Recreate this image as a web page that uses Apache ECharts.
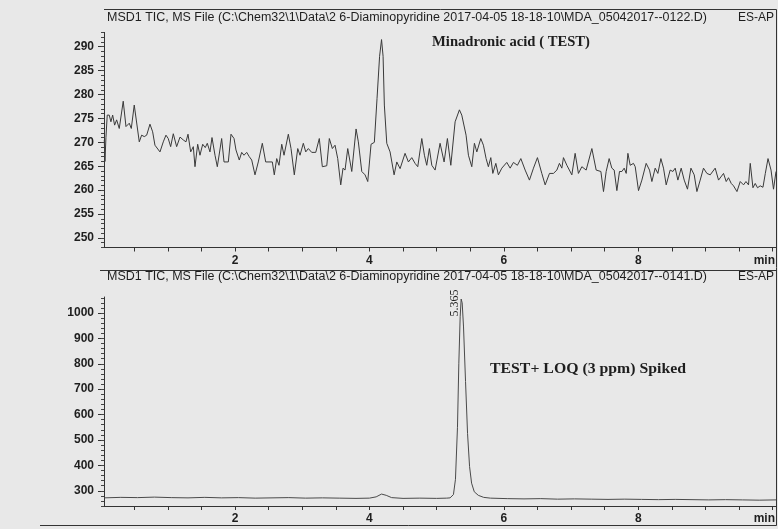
<!DOCTYPE html>
<html><head><meta charset="utf-8">
<script src="https://cdn.jsdelivr.net/npm/echarts@6/dist/echarts.min.js"></script>
<style>html,body{margin:0;padding:0;background:#e8e8e8}#c{width:778px;height:529px}</style>
</head><body><div id="c"></div>
<script>
// ---- data ----
const topTime = [0.054,0.064,0.079,0.098,0.128,0.153,0.179,0.208,0.238,0.277,0.336,0.377,0.426,0.456,0.500,0.575,0.610,0.649,0.685,0.734,0.774,0.808,0.883,0.932,0.972,1.006,1.042,1.081,1.131,1.181,1.230,1.270,1.300,1.340,1.379,1.404,1.444,1.478,1.519,1.557,1.587,1.627,1.657,1.702,1.736,1.801,1.836,1.900,1.940,1.985,2.014,2.063,2.099,2.133,2.174,2.212,2.248,2.297,2.346,2.406,2.456,
2.555,2.584,2.620,2.654,2.695,2.729,2.793,2.833,2.882,2.933,2.967,3.016,3.052,3.091,3.141,3.201,3.254,3.299,3.365,3.403,3.448,3.488,3.528,3.573,3.607,3.637,3.677,3.737,3.801,3.835,3.886,3.935,3.975,4.024,4.073,4.113,4.151,4.180,4.203,4.222,4.258,4.307,4.367,4.407,4.456,4.530,4.580,4.630,4.679,4.719,4.779,4.818,4.853,4.892,4.928,4.977,
5.051,5.111,5.160,5.211,5.275,5.339,5.374,5.438,5.473,5.523,5.562,5.598,5.657,5.696,5.736,5.770,5.806,5.836,5.881,5.919,5.970,6.044,6.094,6.143,6.202,6.253,6.317,6.381,6.441,6.500,6.565,6.615,6.679,6.738,6.789,6.827,6.863,6.887,6.938,7.012,7.061,7.110,7.161,7.225,7.310,7.374,7.444,7.483,
7.523,7.567,7.607,7.642,7.682,7.721,7.757,7.791,7.821,7.846,7.880,7.929,7.955,8.004,8.054,8.118,8.168,8.203,8.252,8.292,8.337,8.376,8.416,8.475,8.516,8.550,8.590,8.639,8.684,8.733,8.784,8.833,8.873,8.922,8.971,9.022,9.071,9.145,9.195,9.269,9.309,9.343,9.384,9.418,9.469,9.518,9.567,9.603,9.641,9.667,9.707,9.741,9.775,9.815,9.856,9.891,9.931,9.976,10.013,10.05];
const topSignal = [270.5,266.0,271.0,275.7,275.7,274.3,275.7,273.6,274.7,272.9,278.6,273.3,274.0,272.9,277.8,270.1,271.5,271.2,271.5,273.8,272.2,269.4,268.0,270.1,271.5,270.8,269.1,271.8,269.1,271.1,270.5,270.1,271.7,268.0,269.1,264.9,269.6,267.3,269.6,268.9,269.8,268.0,271.0,267.3,264.9,270.8,265.9,265.9,271.7,270.8,268.4,266.3,267.9,267.3,267.9,267.0,266.3,263.2,265.9,269.8,265.9,
265.9,263.2,266.6,265.2,269.6,267.3,271.7,268.7,263.2,268.7,267.3,269.8,268.0,268.7,267.9,267.9,270.8,264.9,265.1,270.8,268.7,269.4,266.6,261.1,264.6,264.2,268.7,263.9,272.8,270.1,263.9,263.2,261.8,269.6,270.0,279.2,288.0,291.5,288.0,277.8,269.8,268.0,263.2,265.9,264.5,267.7,265.9,266.8,265.6,264.9,270.8,267.3,265.2,268.7,265.2,264.2,
269.8,265.9,270.8,265.2,274.3,276.8,275.7,271.5,267.3,264.9,269.8,268.0,270.8,269.4,266.6,264.9,266.8,263.5,265.6,263.2,264.6,265.8,264.6,265.8,265.2,266.6,264.2,262.1,264.6,266.8,263.5,261.1,263.5,263.5,264.2,265.6,264.6,266.8,265.2,263.2,267.7,263.5,264.9,264.2,268.7,264.2,263.9,259.7,
263.9,266.6,264.6,264.2,259.9,263.9,263.9,264.6,263.5,267.7,265.2,265.6,264.9,259.9,262.1,265.6,264.2,261.8,264.6,263.5,266.6,264.6,261.1,264.2,263.9,264.6,262.1,264.6,262.1,260.2,264.6,263.2,259.7,262.1,264.6,263.5,263.2,264.6,262.1,263.5,261.8,262.6,261.4,260.9,259.7,261.8,261.1,261.8,261.1,265.6,260.5,261.4,260.5,260.9,260.6,263.5,266.6,264.2,260.2,263.9];

const bottomTime = [0.05,0.3,0.55,0.8,1.05,1.3,1.55,1.8,2.05,2.3,2.55,2.8,3.05,3.3,3.55,3.8,4.0,4.1,4.18,4.25,4.33,4.5,4.75,5.0,5.15,5.2,5.25,5.28,5.31,5.33,5.35,5.365,5.38,5.40,5.43,5.46,5.49,5.52,5.56,5.62,5.7,5.8,6.05,6.3,6.55,6.8,7.05,7.3,7.55,7.8,8.05,8.3,8.55,8.8,9.05,9.3,9.55,9.8,10.05];
const bottomSignal = [272,274,273,275,273,272,274,272,273,271,272,273,271,272,271,270,271,276,287,282,273,270,271,270,271,272,285,345,550,800,985,1055,1040,945,730,525,395,330,296,282,274,271,269,268,269,267,268,267,266,267,266,265,266,265,264,265,264,263,264];

const xLabelValues = [2, 4, 6, 8];
const xTickValues = [0.5,1,1.5,2,2.5,3,3.5,4,4.5,5,5.5,6,6.5,7,7.5,8,8.5,9,9.5,10];
const topYLabels = [250,255,260,265,270,275,280,285,290];
const topYMinor = [248,249,250,251,252,253,254,255,256,257,258,259,260,261,262,263,264,265,266,267,268,269,270,271,272,273,274,275,276,277,278,279,280,281,282,283,284,285,286,287,288,289,290,291,292,293];
const bottomYLabels = [300,400,500,600,700,800,900,1000];
const bottomYMinor = [240,260,280,300,320,340,360,380,400,420,440,460,480,500,520,540,560,580,600,620,640,660,680,700,720,740,760,780,800,820,840,860,880,900,920,940,960,980,1000,1020,1040,1060];

const peakTime = 5.365, peakValue = 1055, peakText = '5.365';
const headerTop = 'MSD1 TIC, MS File (C:\\Chem32\\1\\Data\\2 6-Diaminopyridine 2017-04-05 18-18-10\\MDA_05042017--0122.D)';
const headerBottom = 'MSD1 TIC, MS File (C:\\Chem32\\1\\Data\\2 6-Diaminopyridine 2017-04-05 18-18-10\\MDA_05042017--0141.D)';
const headerTail = 'ES-AP';
const noteTop = 'Minadronic acid ( TEST)';
const noteBottom = 'TEST+ LOQ (3 ppm) Spiked';
const unitText = 'min';

// ---- chart ----
const SANS = '"Liberation Sans", Arial, sans-serif';
const SERIF = '"Liberation Serif", "Times New Roman", serif';
const INK = '#1e1e1e';
const chart = echarts.init(document.getElementById('c'), null, {renderer: 'canvas', width: 778, height: 529});

const ctx = document.createElement('canvas').getContext('2d');
function fitScale(text, font, width) { ctx.font = font; return width / ctx.measureText(text).width; }

const TOP = {top: 32.4, height: 215.1, min: 248, max: 293};
const BOT = {top: 297, height: 209, min: 240, max: 1063};

function xAxisDef(i) {
  return {
    type: 'value', gridIndex: i, min: 0.05, max: 10.05,
    axisLine: {show: true, onZero: false, lineStyle: {color: '#333', width: 1}},
    axisTick: {show: true, customValues: xTickValues, length: 4, lineStyle: {color: '#333'}},
    axisLabel: {show: true, customValues: xLabelValues, margin: 7, color: INK, fontSize: 12, fontWeight: 'bold', fontFamily: SANS},
    splitLine: {show: false}
  };
}
function yMajor(i, min, max, labels) {
  return {
    type: 'value', gridIndex: i, min: min, max: max, position: 'left',
    axisLine: {show: true, onZero: false, lineStyle: {color: '#333', width: 1}},
    axisTick: {show: true, customValues: labels, length: 6, lineStyle: {color: '#333'}},
    axisLabel: {show: true, customValues: labels, margin: 10, color: INK, fontSize: 12, fontWeight: 'bold', fontFamily: SANS,
                formatter: v => String(v)},
    splitLine: {show: false}
  };
}
function yMinor(i, min, max, ticks) {
  return {
    type: 'value', gridIndex: i, min: min, max: max, position: 'left',
    axisLine: {show: false},
    axisTick: {show: true, customValues: ticks, length: 3, lineStyle: {color: '#444'}},
    axisLabel: {show: false},
    splitLine: {show: false}
  };
}

const option = {
  animation: false,
  backgroundColor: '#e8e8e8',
  grid: [
    {left: 104, top: TOP.top, width: 672, height: TOP.height},
    {left: 104, top: BOT.top, width: 672, height: BOT.height}
  ],
  xAxis: [xAxisDef(0), xAxisDef(1)],
  yAxis: [
    yMajor(0, TOP.min, TOP.max, topYLabels), yMinor(0, TOP.min, TOP.max, topYMinor),
    yMajor(1, BOT.min, BOT.max, bottomYLabels), yMinor(1, BOT.min, BOT.max, bottomYMinor)
  ],
  series: [
    {type: 'line', xAxisIndex: 0, yAxisIndex: 0, data: topTime.map((t, k) => [t, topSignal[k]]),
     showSymbol: false, symbol: 'none', clip: false, lineStyle: {color: '#3a3a3a', width: 1}},
    {type: 'line', xAxisIndex: 1, yAxisIndex: 2, data: bottomTime.map((t, k) => [t, bottomSignal[k]]),
     showSymbol: false, symbol: 'none', clip: false, lineStyle: {color: '#4a4a4a', width: 1}}
  ]
};
chart.setOption(option);

const hdrFont = '12px ' + SANS;
const noteFont = 'bold 14px ' + SERIF;
const hs = fitScale(headerTop, hdrFont, 600);
const n1 = fitScale(noteTop, noteFont, 158);
const n2 = fitScale(noteBottom, noteFont, 196);
const pk = chart.convertToPixel({xAxisIndex: 1, yAxisIndex: 2}, [peakTime, peakValue]);
const topAxisY = TOP.top + TOP.height, botAxisY = BOT.top + BOT.height;

function line(x1, y1, x2, y2) {
  return {type: 'line', shape: {x1, y1, x2, y2}, style: {stroke: '#333', lineWidth: 1}, silent: true};
}
function txt(text, x, y, font, align, sx, rot) {
  return {type: 'text', x: x, y: y, scaleX: sx || 1, rotation: rot || 0, silent: true,
          style: {text: text, font: font, fill: INK, textAlign: align, textVerticalAlign: 'middle'}};
}

chart.setOption({
  graphic: {elements: [
    line(104, 9.5, 776.5, 9.5),
    line(776.5, 9.5, 776.5, 525.5),
    line(100, 270.5, 776.5, 270.5),
    line(40, 525.5, 776.5, 525.5),
    txt(headerTop, 107, 17.5, hdrFont, 'left', hs),
    txt(headerTail, 774, 17.5, hdrFont, 'right'),
    txt(headerBottom, 107, 277, hdrFont, 'left', hs),
    txt(headerTail, 774, 277, hdrFont, 'right'),
    txt(unitText, 775, topAxisY + 13, 'bold 12px ' + SANS, 'right'),
    txt(unitText, 775, botAxisY + 13, 'bold 12px ' + SANS, 'right'),
    txt(noteTop, 432, 42, noteFont, 'left', n1),
    txt(noteBottom, 490, 369, noteFont, 'left', n2),
    txt(peakText, pk[0] - 6.5, pk[1] + 4, '12px ' + SERIF, 'center', 1, Math.PI / 2)
  ]}
});
</script></body></html>
